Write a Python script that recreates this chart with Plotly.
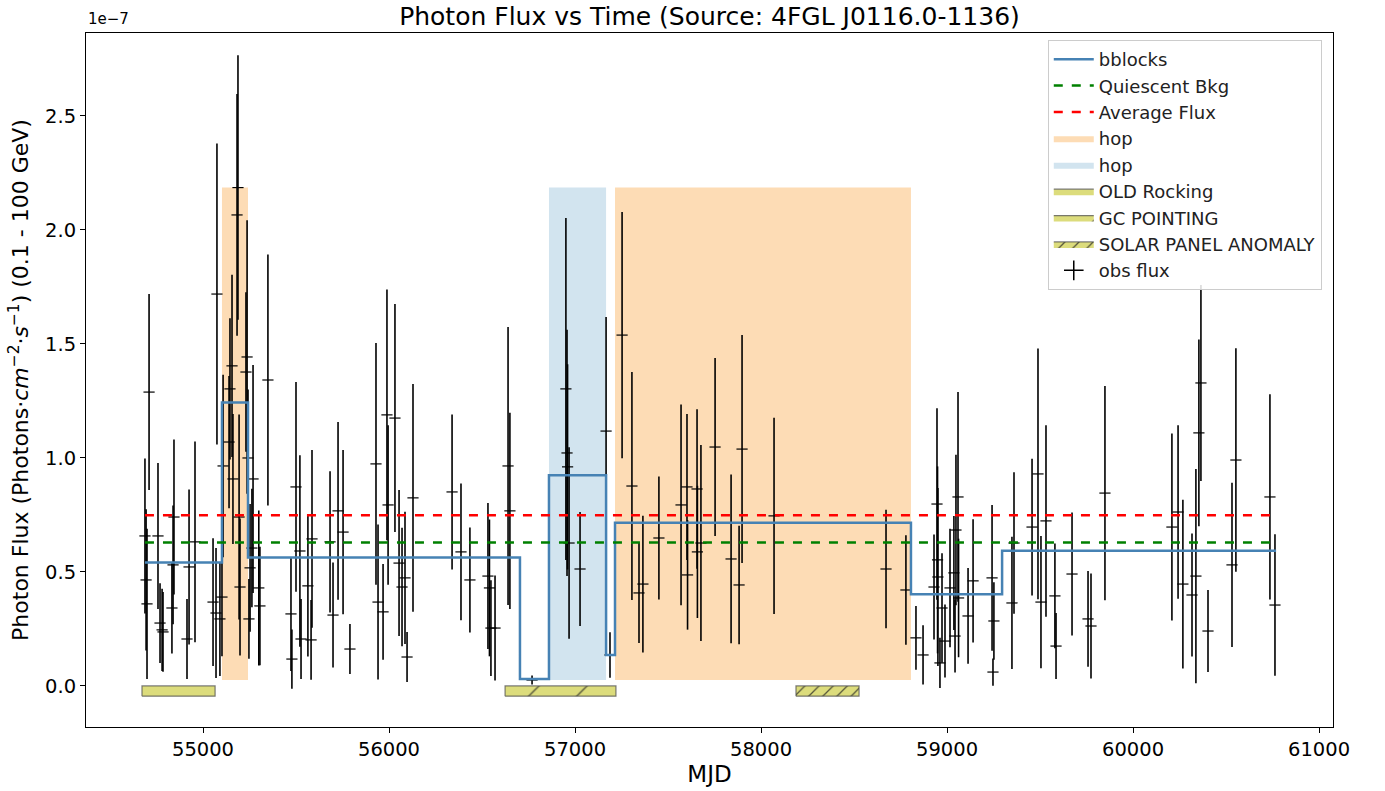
import plotly.graph_objects as go

# ---------------- data (flux in units of 1e-7 ph cm^-2 s^-1) ----------------
mjd = [54688, 54694, 54699, 54710, 54758, 54769, 54780, 54785, 54833, 54839,
       54844, 54914, 54925, 54957, 55054, 55070, 55075, 55091, 55102, 55108,
       55140, 55145, 55156, 55161, 55183, 55188, 55194, 55199, 55231, 55237,
       55242, 55247,
       55253, 55263, 55269, 55300, 55306, 55349, 55473, 55478, 55500, 55521,
       55527, 55564, 55581, 55586, 55683, 55699, 55726, 55753, 55790, 55930,
       55941, 55968, 55989, 55995, 56032, 56054, 56070, 56086, 56097, 56129,
       56339, 56387, 56435, 56532, 56540, 56548, 56570, 56640, 56650, 56769,
       56951, 56957, 56960, 56968, 57027, 57167, 57188,
       57253, 57306, 57344, 57365, 57451, 57570, 57602, 57605, 57656, 57658,
       57677, 57753, 57839, 57882, 57898, 58070, 58672, 58779,
       58833, 58871, 58930, 58946, 58949, 58951, 58962, 58973, 58989, 59016,
       59037, 59043, 59048, 59059, 59062, 59113, 59140, 59242, 59247, 59252,
       59349, 59360, 59457, 59489, 59505, 59532, 59580, 59586, 59672, 59758,
       59774, 59849, 60209, 60242, 60268, 60317, 60338, 60354, 60365, 60403,
       60532, 60553, 60736, 60763]
flux = [0.658, 0.465, 0.360, 1.289, 0.658, 0.276, 0.246, 0.237, 0.342, 0.531,
        0.741, 0.206, 0.522, 0.632, 0.368, 0.320, 1.719, 0.294, 0.390, 0.965,
        1.070, 1.303, 1.404, 0.908, 2.066, 2.186, 0.741, 0.434, 1.377, 1.443,
        1.000, 0.294,
        0.518, 0.605, 0.908, 0.430, 0.351, 1.342, 0.316, 0.118, 0.873, 0.592,
        0.206, 0.439, 0.202, 0.645, 0.632, 0.311, 0.768, 0.675, 0.162, 0.974,
        0.368, 0.325, 1.189, 0.794, 1.175, 0.539, 0.434, 0.474, 0.127, 0.825,
        0.851, 0.588, 0.465, 0.482, 0.430, 0.254, 0.254, 0.965, 0.768, 0.026,
        1.303, 1.022, 0.961, 0.627, 0.513, 1.118, 0.136,
        1.539, 0.877, 0.408, 0.447, 0.649, 0.794, 0.873, 0.487, 0.864, 0.588,
        0.627, 1.048, 0.557, 0.443, 1.039, 0.746, 0.513, 0.421,
        0.211, 0.136, 0.434, 0.798, 0.553, 0.478, 0.101, 0.342, 0.197, 0.430,
        0.496, 0.219, 0.684, 0.829, 0.386, 0.307, 0.461, 0.474, 0.061, 0.285,
        0.364, 0.627, 0.697, 0.930, 0.368, 0.724, 0.395, 0.175, 0.491, 0.294,
        0.263, 0.846, 0.697, 0.763, 0.447, 0.399, 0.482, 1.110, 1.329, 0.241,
        0.531, 0.991, 0.829, 0.355]
flux_err = [0.34, 0.31, 0.33, 0.43, 0.32, 0.175, 0.18, 0.175, 0.20, 0.26,
            0.34, 0.175, 0.34, 0.44, 0.28, 0.285, 0.66, 0.25, 0.26, 0.40,
            0.29, 0.31, 0.40, 0.285, 0.53, 0.58, 0.45, 0.30, 0.35, 0.60,
            0.30, 0.175,
            0.28, 0.26, 0.50, 0.34, 0.26, 0.55, 0.25, 0.13, 0.46, 0.42,
            0.175, 0.31, 0.175, 0.39, 0.31, 0.23, 0.39, 0.36, 0.11, 0.53,
            0.34, 0.21, 0.55, 0.35, 0.50, 0.32, 0.26, 0.29, 0.11, 0.50,
            0.34, 0.30, 0.23, 0.32, 0.30, 0.21, 0.23, 0.61, 0.43, 0.02,
            0.75, 0.54, 0.45, 0.42, 0.25, 0.50, 0.10,
            0.54, 0.50, 0.22, 0.30, 0.27, 0.44, 0.32, 0.24, 0.35, 0.29,
            0.43, 0.39, 0.37, 0.26, 0.50, 0.43, 0.26, 0.24,
            0.14, 0.13, 0.23, 0.42, 0.41, 0.39, 0.11, 0.24, 0.16, 0.26,
            0.25, 0.16, 0.33, 0.46, 0.26, 0.21, 0.27, 0.32, 0.06, 0.17,
            0.29, 0.31, 0.30, 0.55, 0.29, 0.42, 0.23, 0.145, 0.27, 0.21,
            0.23, 0.47, 0.41, 0.38, 0.37, 0.27, 0.47, 0.41, 0.43, 0.18,
            0.36, 0.49, 0.45, 0.31]

bb_edges = [54688, 55102, 55242, 56704, 56860, 57167, 57215, 58806, 59296, 60769]
bb_values = [0.541, 1.243, 0.564, 0.031, 0.924, 0.136, 0.716, 0.402, 0.593]

quiescent_bkg = 0.629
average_flux = 0.749

hop_starts = [55102, 56860, 57215]
hop_ends = [55242, 57167, 58806]
hop_colors = ["#fddcb5", "#d2e4ef", "#fddcb5"]
hop_legend = [True, True, False]

period_names = ["OLD Rocking", "GC POINTING", "SOLAR PANEL ANOMALY"]
period_starts = [54672, 56624, 58188]
period_ends = [55065, 57220, 58527]
period_hatch = ["", "/", "/"]
period_hatch_size = [0, 34, 10]
period_hatch_solid = [0, 0.04, 0.13]
period_low, period_high = -0.045, 0.0

x_ticks = [55000, 56000, 57000, 58000, 59000, 60000, 61000]
y_ticks = [0.0, 0.5, 1.0, 1.5, 2.0, 2.5]

# ---------------- figure ----------------
fig = go.Figure()

hop_lo, hop_hi = min(flux), max(flux)
for s, e, c, lg in zip(hop_starts, hop_ends, hop_colors, hop_legend):
    fig.add_trace(go.Scatter(
        x=[s, e, e, s, s], y=[hop_lo, hop_lo, hop_hi, hop_hi, hop_lo],
        mode="lines", fill="toself", fillcolor=c, line=dict(width=0, color=c),
        name="hop", showlegend=lg, legendrank=4 if c == "#fddcb5" else 5,
        legendgroup="hop_" + c, hoverinfo="skip"))

for i, (n, s, e, h, hs, so) in enumerate(zip(period_names, period_starts, period_ends,
                                             period_hatch, period_hatch_size,
                                             period_hatch_solid)):
    kw = {}
    if h:
        kw["fillpattern"] = dict(shape=h, size=hs, solidity=so,
                                 fgcolor="#55553a", bgcolor="#dcdc7c", fillmode="replace")
    fig.add_trace(go.Scatter(
        x=[s, e, e, s, s], y=[period_low, period_low, period_high, period_high, period_low],
        mode="lines", fill="toself", fillcolor="#dcdc7c",
        line=dict(width=1.2, color="rgba(80,80,80,0.75)"),
        name=n, legendrank=6 + i, hoverinfo="skip", **kw))

fig.add_trace(go.Scatter(
    x=mjd, y=flux, mode="markers", name="obs flux", showlegend=False,
    marker=dict(symbol="line-ew", size=8, color="black", line=dict(width=1.2, color="black")),
    error_y=dict(type="data", array=flux_err, visible=True, color="black",
                 thickness=1.6, width=0)))
fig.add_trace(go.Scatter(
    x=[None], y=[None], mode="markers", name="obs flux", legendrank=9,
    marker=dict(symbol="cross-thin", size=14, color="black",
                line=dict(width=1.5, color="black"))))

fig.add_trace(go.Scatter(
    x=bb_edges, y=bb_values + [bb_values[-1]], mode="lines", line_shape="hv",
    line=dict(color="#4682b4", width=2.5), name="bblocks", legendrank=1))
fig.add_trace(go.Scatter(
    x=[bb_edges[0], bb_edges[-1]], y=[quiescent_bkg, quiescent_bkg], mode="lines",
    line=dict(color="green", width=2.5, dash="dash"), name="Quiescent Bkg", legendrank=2))
fig.add_trace(go.Scatter(
    x=[bb_edges[0], bb_edges[-1]], y=[average_flux, average_flux], mode="lines",
    line=dict(color="red", width=2.5, dash="dash"), name="Average Flux", legendrank=3))

axis_common = dict(showline=True, linecolor="black", linewidth=1, mirror=True,
                   ticks="outside", ticklen=5, tickcolor="black", showgrid=False,
                   zeroline=False, automargin=False,
                   tickfont=dict(size=19.5, color="black"))

fig.update_layout(
    width=1385, height=791,
    margin=dict(l=86, r=52, t=33, b=64),
    paper_bgcolor="white", plot_bgcolor="white",
    font=dict(family="DejaVu Sans", color="black"),
    title=dict(text="Photon Flux vs Time (Source: 4FGL J0116.0-1136)",
               x=0.5, xref="paper", y=1 - 16 / 791, yref="container", yanchor="middle",
               font=dict(size=25, color="black")),
    xaxis=dict(range=[54371, 61075], tickvals=x_ticks, ticktext=[str(v) for v in x_ticks],
               title=dict(text="MJD", font=dict(size=23), standoff=4), **axis_common),
    yaxis=dict(range=[-0.18, 2.864], tickvals=y_ticks,
               ticktext=["%.1f" % v for v in y_ticks],
               title=dict(text="Photon Flux (Photons·<i>cm</i><sup>−2</sup>·<i>s</i><sup>−1</sup>) (0.1 - 100 GeV)",
                          font=dict(size=22), standoff=10), **axis_common),
    legend=dict(x=0.991, y=0.99, xanchor="right", yanchor="top",
                bgcolor="rgba(255,255,255,0.85)", bordercolor="#cccccc", borderwidth=1,
                font=dict(size=18, color="#222222"), tracegroupgap=0, itemwidth=40),
    showlegend=True,
    annotations=[dict(text="1e−7", xref="paper", yref="paper", x=0, y=1, xanchor="left",
                      yanchor="bottom", showarrow=False, font=dict(size=15, color="black"),
                      yshift=3)],
)

fig.write_html("out.html", config={"displayModeBar": False},
               post_script="document.body.style.margin='0';")
